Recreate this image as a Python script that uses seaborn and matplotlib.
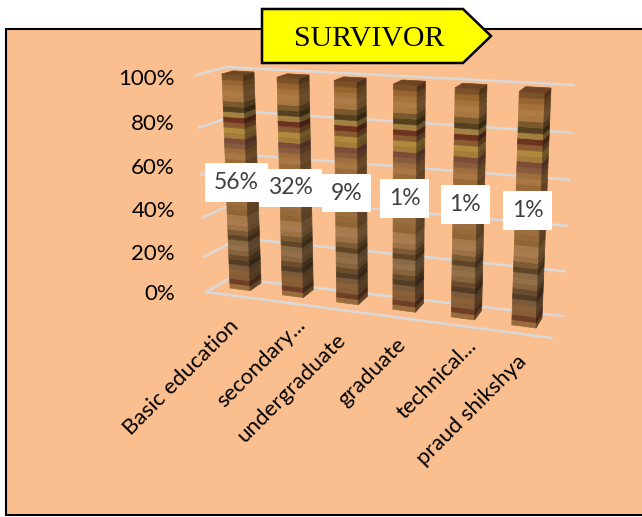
import numpy as np
import matplotlib
matplotlib.use("Agg")
import matplotlib.pyplot as plt
import seaborn as sns
from matplotlib.patches import Polygon, Rectangle
from matplotlib.transforms import Transform

# ------------------------------
# data
# ------------------------------
categories = ["Basic education", "secondary...", "undergraduate", "graduate", "technical...", "praud shikshya"]
shares = [56, 32, 9, 1, 1, 1]
stacked_height = [100, 100, 100, 100, 100, 100]
ticks = [0, 20, 40, 60, 80, 100]
tick_labels = ["0%", "20%", "40%", "60%", "80%", "100%"]

# wood texture of the bars, top to bottom
wood = ["#7c5128", "#96652f", "#a5713d", "#ad7c46", "#a8763f", "#7a5a2c", "#56401f", "#a28040",
        "#6e3220", "#8a5a30", "#b08a3c", "#a47c3a", "#7d4c38", "#8a5c3e", "#a06e3c", "#a87844",
        "#9a6a3a", "#a46e38", "#8f6034", "#9d6c3c", "#a87a48", "#a67848", "#9c7044", "#94683c",
        "#9a6e40", "#96693a", "#8f6535", "#a67a4a", "#a87c50", "#9c7244", "#7c5a34", "#5f4526",
        "#8a6a44", "#94704a", "#86643e", "#6a4c2c", "#523c26", "#7a5a38", "#8a6038", "#855c36",
        "#6e3e26", "#9a6c3c"]

BAR_W = 0.39
BG = "#fbbf8f"
GRID = "#d9d9d9"


class PlaneMap(Transform):
    """projective map of a data rectangle onto 4 pixel corners"""
    input_dims = 2
    output_dims = 2

    def __init__(self, x0, x1, y0, y1, corners):
        super().__init__()
        src = [(x0, y1), (x1, y1), (x0, y0), (x1, y0)]
        a, b = [], []
        for (u, v), (px, py) in zip(src, corners):
            a.append([u, v, 1, 0, 0, 0, -u * px, -v * px])
            a.append([0, 0, 0, u, v, 1, -u * py, -v * py])
            b += [px, py]
        self.h = np.append(np.linalg.solve(np.array(a, float), np.array(b, float)), 1).reshape(3, 3)

    def transform_non_affine(self, values):
        values = np.asarray(values, float)
        p = np.column_stack([values, np.ones(len(values))]) @ self.h.T
        return p[:, :2] / p[:, 2:]


class SideMap(Transform):
    """bar rectangle i -> right side of the box"""
    input_dims = 2
    output_dims = 2

    def __init__(self, i, front, back):
        super().__init__()
        self.i, self.front, self.back = i, front, back

    def transform_non_affine(self, values):
        values = np.asarray(values, float)
        d = (values[:, 0] - (self.i - BAR_W / 2)) / BAR_W
        edge = np.column_stack([np.full(len(values), self.i + BAR_W / 2), values[:, 1]])
        return self.front.transform(edge) * (1 - d[:, None]) + self.back.transform(edge) * d[:, None]


class TopMap(Transform):
    """(x, depth) -> lid of the box"""
    input_dims = 2
    output_dims = 2

    def __init__(self, front, back):
        super().__init__()
        self.front, self.back = front, back

    def transform_non_affine(self, values):
        values = np.asarray(values, float)
        d = values[:, 1:]
        edge = np.column_stack([values[:, 0], np.full(len(values), 100.0)])
        return self.front.transform(edge) * (1 - d) + self.back.transform(edge) * d


def darker(color, k):
    r, g, b = matplotlib.colors.to_rgb(color)
    return (r * k, g * k, b * k)


sns.set_theme(style="white")
plt.rcParams["font.family"] = ["Lato", "DejaVu Sans"]

fig = plt.figure(figsize=(6.42, 5.17), dpi=100, facecolor="white")
ax = fig.add_axes([0, 0, 1, 1])

# 3d planes, corners are top-left, top-right, bottom-left, bottom-right in pixels
front = PlaneMap(-BAR_W / 2, 5 + BAR_W / 2, 0, 100, [(222, 74), (545, 93), (230, 288), (536, 328)])
back = PlaneMap(BAR_W / 2, 5 + BAR_W / 2, 0, 100, [(254, 72), (551, 88), (261, 283), (542, 318)])
wall = PlaneMap(-0.5, 5.5, 0, 100, [(227, 67), (574, 85), (230, 278), (563, 316)])
side_wall = PlaneMap(0, 1, 0, 100, [(196, 75), (227, 67), (206, 292), (230, 278)])
floor_edge = PlaneMap(-0.5, 5.5, 0, 100, [(196, 75), (552, 120), (206, 292), (552, 338)])

# panel
ax.add_patch(Rectangle((6, 29), 660, 486, facecolor=BG, edgecolor="black", linewidth=1.5, zorder=0))

# gridlines
for t in ticks:
    ax.plot([-0.5, 5.5], [t, t], color=GRID, lw=1.8, zorder=0.5, transform=wall + ax.transData)
    ax.plot([0, 1], [t, t], color=GRID, lw=1.8, zorder=0.5, transform=side_wall + ax.transData)
ax.plot([-0.5, 5.5], [0, 0], color=GRID, lw=1.8, zorder=0.5, transform=floor_edge + ax.transData)

# bars: front faces, one stacked slice per texture band
n_front = len(ax.patches)
band = [h / len(wood) for h in stacked_height]
for k, c in enumerate(reversed(wood)):
    bottom = [b * k for b in band]
    sns.barplot(x=categories, y=band, bottom=bottom, color=c, saturation=1, width=BAR_W,
                edgecolor=c, linewidth=0.5, ax=ax)
for p in ax.patches[n_front:]:
    p.set_transform(front + ax.transData)

# bars: side faces
n_side = len(ax.patches)
for k, c in enumerate(reversed(wood)):
    bottom = [b * k for b in band]
    dc = darker(c, 0.62)
    sns.barplot(x=categories, y=band, bottom=bottom, color=dc, saturation=1, width=BAR_W,
                edgecolor=dc, linewidth=0.5, ax=ax)
for j, p in enumerate(ax.patches[n_side:]):
    p.set_transform(SideMap(j % len(categories), front, back) + ax.transData)

# bars: lids
for i in range(len(categories)):
    ax.fill([i - BAR_W / 2, i + BAR_W / 2, i + BAR_W / 2, i - BAR_W / 2], [0, 0, 1, 1],
            color="#6e4524", lw=0.5, zorder=1, transform=TopMap(front, back) + ax.transData)

ax.set_xlim(0, 642)
ax.set_ylim(517, 0)
ax.set_axis_off()

# value labels
for i, s in enumerate(shares):
    ax.text(i, 51, f"{s}%", fontsize=16.5, color="#404040", ha="center", va="center", zorder=4,
            transform=front + ax.transData,
            bbox=dict(boxstyle="square,pad=0.38", facecolor="white", edgecolor="none"))

# y tick labels
for t, lab, y in zip(ticks, tick_labels, [294, 254, 211, 168, 124, 79]):
    ax.text(175, y, lab, fontsize=16, color="black", ha="right", va="center")

# category labels
for c, (x, y) in zip(categories, [(236, 323), (302, 322), (343, 337), (403, 341), (473, 343), (523, 358)]):
    ax.text(x, y, c, fontsize=16, color="black", rotation=45, ha="right", va="center", rotation_mode="anchor")

# title arrow
ax.add_patch(Polygon([(262, 9), (463, 9), (491, 36), (463, 63), (262, 63)], closed=True,
                     facecolor="yellow", edgecolor="black", linewidth=1.8, zorder=5))
ax.text(369, 39, "SURVIVOR", family="Liberation Serif", fontsize=21.5, color="black",
        ha="center", va="center", zorder=6)

fig.savefig("out.png", dpi=100)
